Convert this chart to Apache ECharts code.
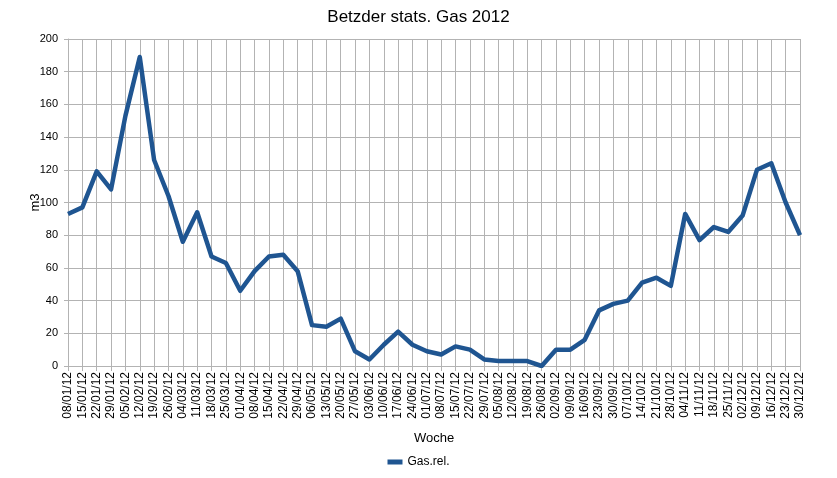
<!DOCTYPE html>
<html><head><meta charset="utf-8">
<script src="https://cdn.jsdelivr.net/npm/echarts@6/dist/echarts.min.js"></script>
<style>html,body{margin:0;padding:0;background:#fff}#c{width:837px;height:478px}</style>
</head><body><div id="c"></div>
<script>
const weeks = ["08/01/12","15/01/12","22/01/12","29/01/12","05/02/12","12/02/12","19/02/12","26/02/12","04/03/12","11/03/12","18/03/12","25/03/12","01/04/12","08/04/12","15/04/12","22/04/12","29/04/12","06/05/12","13/05/12","20/05/12","27/05/12","03/06/12","10/06/12","17/06/12","24/06/12","01/07/12","08/07/12","15/07/12","22/07/12","29/07/12","05/08/12","12/08/12","19/08/12","26/08/12","02/09/12","09/09/12","16/09/12","23/09/12","30/09/12","07/10/12","14/10/12","21/10/12","28/10/12","04/11/12","11/11/12","18/11/12","25/11/12","02/12/12","09/12/12","16/12/12","23/12/12","30/12/12"];
const gasRel = [93,97,119,108,153,189,126,104,76,94,67,63,46,58,67,68,58,25,24,29,9,4,13,21,13,9,7,12,10,4,3,3,3,0,10,10,16,34,38,40,51,54,49,93,77,85,82,92,120,124,100,80];
const chart = echarts.init(document.getElementById('c'));
const font = 'Liberation Sans, Arial, sans-serif';
chart.setOption({
  animation:false,
  backgroundColor:'#fff',
  title:{text:'Betzder stats. Gas 2012',left:'center',top:4,textStyle:{fontFamily:font,fontSize:17,fontWeight:'normal',color:'#000'}},
  legend:{bottom:5,left:'center',data:['Gas.rel.'],icon:'rect',itemWidth:15,itemHeight:5,textStyle:{fontFamily:font,fontSize:12,color:'#000'}},
  grid:{left:68,right:37,top:39,bottom:112},
  xAxis:{type:'category',data:weeks,boundaryGap:false,name:'Woche',nameLocation:'middle',nameGap:66,nameMoveOverlap:false,
    nameTextStyle:{fontFamily:font,fontSize:13,color:'#000'},
    axisLine:{lineStyle:{color:'#b3b3b3'}},axisTick:{show:true,alignWithLabel:true,lineStyle:{color:'#b3b3b3'}},
    axisLabel:{rotate:90,interval:0,fontFamily:font,fontSize:12,color:'#000',margin:6},
    splitLine:{show:true,lineStyle:{color:'#b3b3b3',width:1}}},
  yAxis:{type:'value',min:0,max:200,interval:20,name:'m3',nameLocation:'middle',nameGap:26,nameRotate:90,nameMoveOverlap:false,
    nameTextStyle:{fontFamily:font,fontSize:13,color:'#000'},
    axisLine:{show:true,lineStyle:{color:'#b3b3b3'}},axisTick:{show:true,length:4,lineStyle:{color:'#b3b3b3'}},
    axisLabel:{fontFamily:font,fontSize:11,color:'#000',margin:10},
    splitLine:{show:true,lineStyle:{color:'#b3b3b3',width:1}}},
  series:[{name:'Gas.rel.',type:'line',data:gasRel,showSymbol:false,symbol:'none',
    lineStyle:{color:'#1f5591',width:4.5,join:'round'},itemStyle:{color:'#1f5591'}}]
});
</script></body></html>
